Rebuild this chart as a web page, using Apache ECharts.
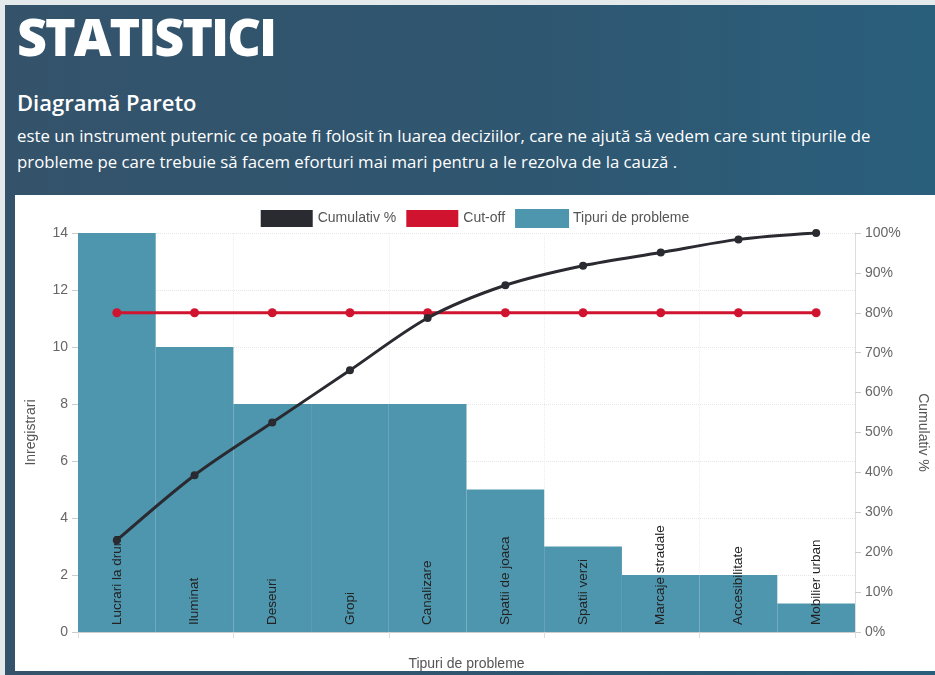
<!DOCTYPE html>
<html>
<head>
<meta charset="utf-8">
<script src="https://cdn.jsdelivr.net/npm/echarts@6/dist/echarts.min.js"></script>
<style>
  html, body { margin:0; padding:0; width:935px; height:675px; overflow:hidden; }
  body { background:#e4e9ec; position:relative; font-family:"Open Sans","Noto Sans",sans-serif; }
  #page { position:absolute; left:5px; top:5px; right:0; bottom:0;
          background:linear-gradient(90deg,#34536b 0%,#2f5670 55%,#2a5f7c 100%); }
  #title { position:absolute; left:12px; top:2px; color:#fff; font-weight:800; font-size:52px;
           letter-spacing:-2px; line-height:58px; margin:0; }
  #sub { position:absolute; left:12px; top:83px; color:#fff; font-weight:600; font-size:22px; line-height:28px; }
  #para { position:absolute; left:12px; top:118px; color:#fff; font-size:16.8px; line-height:26px; white-space:nowrap; }
  #chart { position:absolute; left:15px; top:195px; width:920px; height:476px; background:#fff; }
</style>
</head>
<body>
<div id="page">
  <div id="title">STATISTICI</div>
  <div id="sub">Diagramă Pareto</div>
  <div id="para">este un instrument puternic ce poate fi folosit în luarea deciziilor, care ne ajută să vedem care sunt tipurile de<br>probleme pe care trebuie să facem eforturi mai mari pentru a le rezolva de la cauză .</div>
</div>
<div id="chart"></div>
<script>
const categories = ["Lucrari la drum","Iluminat","Deseuri","Gropi","Canalizare","Spatii de joaca","Spatii verzi","Marcaje stradale","Accesibilitate","Mobilier urban"];
const counts = [14, 10, 8, 8, 8, 5, 3, 2, 2, 1];
const cumulative = [23.0, 39.3, 52.5, 65.6, 78.7, 86.9, 91.8, 95.1, 98.4, 100];
const cutoff = [80, 80, 80, 80, 80, 80, 80, 80, 80, 80];
const leftTicks = { min: 0, max: 14, interval: 2 };
const rightTicks = { min: 0, max: 100, interval: 10 };

const chart = echarts.init(document.getElementById('chart'));
const font = 'Liberation Sans, Arial, sans-serif';
chart.setOption({
  animation: false,
  textStyle: { fontFamily: font },
  legend: {
    top: 9, left: 'center', itemWidth: 52, itemHeight: 17, itemGap: 10,
    textStyle: { color: '#555', fontSize: 14, fontFamily: font },
    data: [
      { name: 'Cumulativ %', icon: 'rect' },
      { name: 'Cut-off', icon: 'rect' },
      { name: 'Tipuri de probleme', icon: 'rect' }
    ]
  },
  grid: { left: 63, right: 80, top: 38, bottom: 39, containLabel: false, outerBoundsMode: 'none' },
  xAxis: [
    {
      type: 'category', data: categories, z: 0,
      name: 'Tipuri de probleme', nameLocation: 'middle', nameGap: 25,
      nameTextStyle: { color: '#555', fontSize: 14, fontFamily: font },
      axisLine: { lineStyle: { color: '#ccc' } },
      axisTick: { show: true, length: 6, lineStyle: { color: '#ddd' } },
      axisLabel: { show: false },
      splitLine: { show: true, lineStyle: { color: '#eeeeee', type: 'dotted' } }
    },
    {
      type: 'category', data: categories, position: 'bottom', z: 3,
      axisLine: { show: false }, axisTick: { show: false }, splitLine: { show: false },
      axisLabel: { inside: true, rotate: 90, margin: 7, color: '#222', fontSize: 13.5, fontFamily: font }
    }
  ],
  yAxis: [
    {
      type: 'value', min: leftTicks.min, max: leftTicks.max, interval: leftTicks.interval,
      name: 'Inregistrari', nameLocation: 'middle', nameGap: 40, nameRotate: 90,
      nameTextStyle: { color: '#555', fontSize: 14, fontFamily: font },
      axisLine: { show: false },
      axisTick: { show: true, length: 6, lineStyle: { color: '#ccc' } },
      axisLabel: { color: '#666', fontSize: 14, margin: 10, fontFamily: font },
      splitLine: { show: true, lineStyle: { color: '#e6e6e6', type: 'dotted' } }
    },
    {
      type: 'value', min: rightTicks.min, max: rightTicks.max, interval: rightTicks.interval,
      name: 'Cumulativ %', nameLocation: 'middle', nameGap: 61, nameRotate: -90,
      nameTextStyle: { color: '#555', fontSize: 14, fontFamily: font },
      axisLine: { show: true, lineStyle: { color: '#ddd' } },
      axisTick: { show: true, length: 6, lineStyle: { color: '#ccc' } },
      axisLabel: { color: '#666', fontSize: 14, margin: 10, formatter: '{value}%', fontFamily: font },
      splitLine: { show: false }
    }
  ],
  series: [
    {
      name: 'Tipuri de probleme', type: 'bar', data: counts, yAxisIndex: 0, xAxisIndex: 0,
      barCategoryGap: '0%', itemStyle: { color: '#4e95ae', borderColor: '#4e95ae', borderWidth: 1.5 }, z: 2
    },
    {
      name: 'Cut-off', type: 'line', data: cutoff, yAxisIndex: 1, xAxisIndex: 0,
      symbol: 'circle', symbolSize: 9,
      lineStyle: { color: '#d0142f', width: 3 }, itemStyle: { color: '#d0142f' }, z: 5
    },
    {
      name: 'Cumulativ %', type: 'line', data: cumulative, yAxisIndex: 1, xAxisIndex: 0, smooth: 0.3,
      symbol: 'circle', symbolSize: 8,
      lineStyle: { color: '#2a2a31', width: 3 }, itemStyle: { color: '#2a2a31' }, z: 6
    }
  ]
});
</script>
</body>
</html>
